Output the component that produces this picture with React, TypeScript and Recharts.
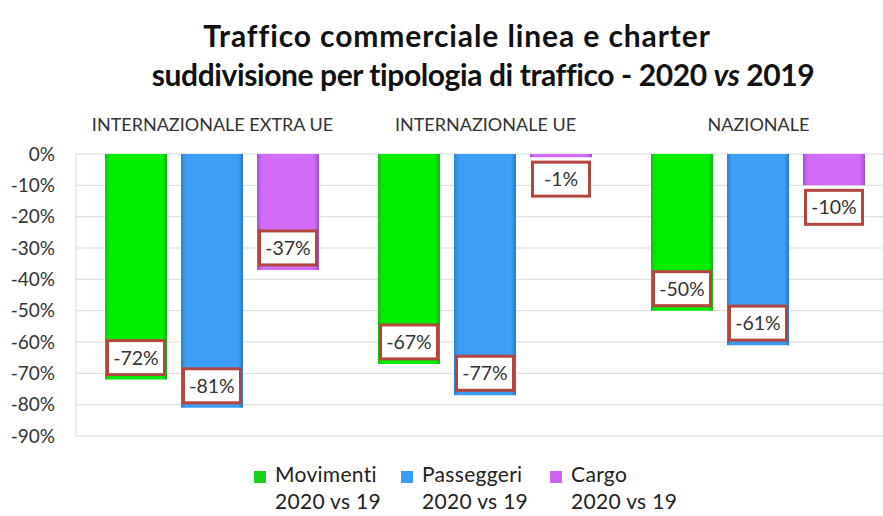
import React from "react";
import { BarChart, Bar, XAxis, YAxis, CartesianGrid, LabelList } from "recharts";

const categories = ["INTERNAZIONALE EXTRA UE", "INTERNAZIONALE UE", "NAZIONALE"];
const movimenti = [-72, -67, -50];
const passeggeri = [-81, -77, -61];
const cargo = [-37, -1, -10];
const yTicks = [0, -10, -20, -30, -40, -50, -60, -70, -80, -90];
const seriesNames = ["Movimenti", "Passeggeri", "Cargo"];
const seriesSub = ["2020 vs 19", "2020 vs 19", "2020 vs 19"];
const titleLine1 = "Traffico commerciale linea e charter";

const data = categories.map((name, i) => ({
  name,
  movimenti: movimenti[i],
  passeggeri: passeggeri[i],
  cargo: cargo[i],
}));

const FONT = "Lato, 'Open Sans', sans-serif";
const legendColors = ["#19d119", "#3a9cf2", "#cc66ee"];

const renderLabel = (props: any) => {
  const { x, y, width, height, value } = props;
  const nx = Number(x), ny = Number(y), nw = Number(width), nh = Number(height);
  const end = Math.max(ny, ny + nh);
  const inside = Math.abs(Number(value)) >= 20;
  const boxH = 34;
  const boxW = 57;
  const top = inside ? end - 5 - boxH : end + 5;
  const cx = nx + nw / 2;
  return (
    <g>
      <rect x={cx - boxW / 2} y={top} width={boxW} height={boxH} fill="#ffffff" stroke="#b4463f" strokeWidth={3} />
      <text x={cx} y={top + boxH / 2} dy="0.36em" textAnchor="middle" fontSize={19.5} fontFamily={FONT} fill="#333333">
        {`${value}%`}
      </text>
    </g>
  );
};

export default function App() {
  return (
    <div style={{ position: "absolute", left: 0, top: 0, width: 883, height: 516, overflow: "hidden", background: "#ffffff", fontFamily: FONT }}>
      <div style={{ position: "absolute", left: 457 - 400, top: 18, width: 800, textAlign: "center", fontSize: 30, fontWeight: 700, color: "#111", lineHeight: "34px", whiteSpace: "nowrap", letterSpacing: 0.9 }}>
        {titleLine1}
      </div>
      <div style={{ position: "absolute", left: 483 - 400, top: 57, width: 800, textAlign: "center", fontSize: 30, fontWeight: 700, color: "#111", lineHeight: "34px", whiteSpace: "nowrap", letterSpacing: -0.4 }}>
        suddivisione per tipologia di traffico - 2020 <i>vs</i> 2019
      </div>
      <div style={{ position: "absolute", left: 0, top: 0 }}>
        <BarChart width={900} height={516} data={data} margin={{ top: 124, right: 5, bottom: 80, left: 0 }} barCategoryGap={29} barGap={14}>
          <defs>
            <linearGradient id="gGreen" x1="0" y1="0" x2="1" y2="0">
              <stop offset="0%" stopColor="#14c214" />
              <stop offset="8%" stopColor="#00f000" />
              <stop offset="92%" stopColor="#00f000" />
              <stop offset="100%" stopColor="#10b510" />
            </linearGradient>
            <linearGradient id="gBlue" x1="0" y1="0" x2="1" y2="0">
              <stop offset="0%" stopColor="#2f80d6" />
              <stop offset="8%" stopColor="#3d9ef7" />
              <stop offset="92%" stopColor="#3d9ef7" />
              <stop offset="100%" stopColor="#2a78cc" />
            </linearGradient>
            <linearGradient id="gPurple" x1="0" y1="0" x2="1" y2="0">
              <stop offset="0%" stopColor="#a94fd6" />
              <stop offset="8%" stopColor="#d06cf8" />
              <stop offset="92%" stopColor="#d06cf8" />
              <stop offset="100%" stopColor="#a44ccf" />
            </linearGradient>
          </defs>
          <CartesianGrid vertical={false} stroke="#d9d9d9" />
          <XAxis dataKey="name" orientation="top" height={30} tickLine={false} axisLine={false} tickSize={0} tickMargin={23}
            tick={{ fontSize: 18, fontFamily: FONT, fill: "#333333" }} interval={0} />
          <YAxis width={76} domain={[-90, 0]} ticks={yTicks} tickFormatter={(v: number) => `${v}%`} tickLine={false} tickSize={0} tickMargin={21}
            axisLine={{ stroke: "#d9d9d9" }} tick={{ fontSize: 19, fontFamily: FONT, fill: "#333333" }} interval={0} />
          <Bar dataKey="movimenti" fill="url(#gGreen)" isAnimationActive={false}>
            <LabelList dataKey="movimenti" content={renderLabel} />
          </Bar>
          <Bar dataKey="passeggeri" fill="url(#gBlue)" isAnimationActive={false}>
            <LabelList dataKey="passeggeri" content={renderLabel} />
          </Bar>
          <Bar dataKey="cargo" fill="url(#gPurple)" isAnimationActive={false}>
            <LabelList dataKey="cargo" content={renderLabel} />
          </Bar>
        </BarChart>
      </div>
      <div style={{ position: "absolute", left: 254, top: 460, display: "flex", flexDirection: "row", fontSize: 21, letterSpacing: 0.3, color: "#222", lineHeight: "27px" }}>
        {seriesNames.map((n, i) => (
          <div key={n} style={{ display: "flex", flexDirection: "row", marginRight: i === 0 ? 20 : 22 }}>
            <div style={{ width: 12, height: 12, background: legendColors[i], marginTop: 11, marginRight: 9 }} />
            <div>
              <div>{n}</div>
              <div>{seriesSub[i]}</div>
            </div>
          </div>
        ))}
      </div>
    </div>
  );
}
